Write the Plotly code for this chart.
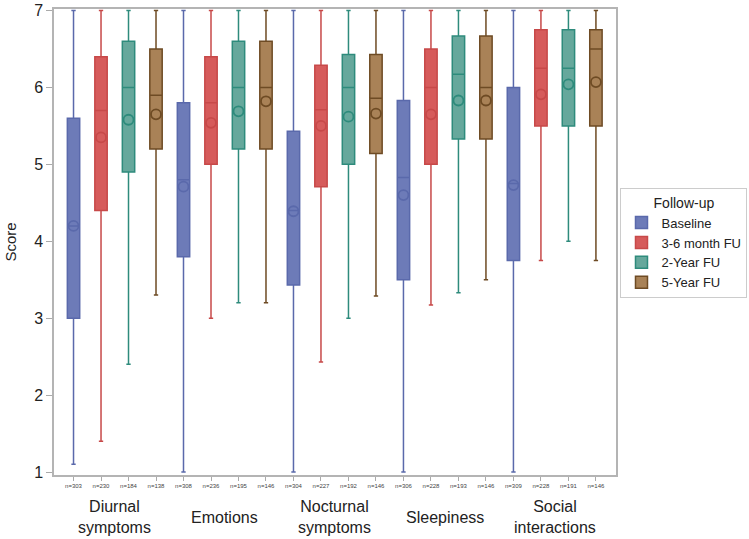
import plotly.graph_objects as go

# domains shown on the x axis
domains = ["Diurnal<br>symptoms", "Emotions", "Nocturnal<br>symptoms", "Sleepiness", "Social<br>interactions"]
followups = ["Baseline", "3-6 month FU", "2-Year FU", "5-Year FU"]

# sample sizes, one list per follow-up (order = domains)
n_baseline = [303, 308, 304, 306, 309]
n_3_6m = [230, 236, 227, 228, 228]
n_2y = [184, 195, 192, 193, 191]
n_5y = [138, 146, 146, 146, 146]

# box statistics
min_baseline = [1.1, 1.0, 1.0, 1.0, 1.0]
q1_baseline = [3.0, 3.8, 3.43, 3.5, 3.75]
med_baseline = [4.2, 4.8, 4.4, 4.83, 4.75]
q3_baseline = [5.6, 5.8, 5.43, 5.83, 6.0]
max_baseline = [7, 7, 7, 7, 7]
mean_baseline = [4.2, 4.71, 4.39, 4.6, 4.73]

min_3_6m = [1.4, 3.0, 2.43, 3.17, 3.75]
q1_3_6m = [4.4, 5.0, 4.71, 5.0, 5.5]
med_3_6m = [5.7, 5.8, 5.71, 6.0, 6.25]
q3_3_6m = [6.4, 6.4, 6.29, 6.5, 6.75]
max_3_6m = [7, 7, 7, 7, 7]
mean_3_6m = [5.35, 5.54, 5.5, 5.65, 5.91]

min_2y = [2.4, 3.2, 3.0, 3.33, 4.0]
q1_2y = [4.9, 5.2, 5.0, 5.33, 5.5]
med_2y = [6.0, 6.0, 6.0, 6.17, 6.25]
q3_2y = [6.6, 6.6, 6.43, 6.67, 6.75]
max_2y = [7, 7, 7, 7, 7]
mean_2y = [5.58, 5.69, 5.62, 5.83, 6.04]

min_5y = [3.3, 3.2, 3.29, 3.5, 3.75]
q1_5y = [5.2, 5.2, 5.14, 5.33, 5.5]
med_5y = [5.9, 6.0, 5.86, 6.0, 6.5]
q3_5y = [6.5, 6.6, 6.43, 6.67, 6.75]
max_5y = [7, 7, 7, 7, 7]
mean_5y = [5.65, 5.82, 5.66, 5.83, 6.07]

series = [
    (followups[0], n_baseline, min_baseline, q1_baseline, med_baseline, q3_baseline, max_baseline, mean_baseline),
    (followups[1], n_3_6m, min_3_6m, q1_3_6m, med_3_6m, q3_3_6m, max_3_6m, mean_3_6m),
    (followups[2], n_2y, min_2y, q1_2y, med_2y, q3_2y, max_2y, mean_2y),
    (followups[3], n_5y, min_5y, q1_5y, med_5y, q3_5y, max_5y, mean_5y),
]

fills = ["#6d7bb8", "#d65b5b", "#66a89c", "#a98257"]
edges = ["#5a69ab", "#c74949", "#2e8b7c", "#6e4b24"]

FONT = "Liberation Sans, Arial, sans-serif"
n_groups = len(followups)

fig = go.Figure()
tickvals, ticktext = [], []
for k, (name, ns, lo, q1, med, q3, hi, mean) in enumerate(series):
    xs = [d * n_groups + k for d in range(len(domains))]
    tickvals += xs
    ticktext += [f"n={n}" for n in ns]
    fig.add_trace(
        go.Box(
            name=name,
            x=xs,
            lowerfence=lo,
            q1=q1,
            median=med,
            q3=q3,
            upperfence=hi,
            width=0.45,
            whiskerwidth=0.35,
            fillcolor=fills[k],
            line=dict(color=edges[k], width=1.5),
            boxpoints=False,
        )
    )
    fig.add_trace(
        go.Scatter(
            x=xs,
            y=mean,
            mode="markers",
            marker=dict(symbol="circle-open", size=10, color=edges[k], line=dict(width=1.8)),
            showlegend=False,
            hoverinfo="y",
        )
    )

fig.update_xaxes(
    range=[-0.71, 19.73],
    tickvals=tickvals,
    ticktext=ticktext,
    tickfont=dict(size=6, color="#444444"),
    ticks="outside",
    ticklen=4,
    tickcolor="#aaaaaa",
    showline=True,
    mirror=True,
    linecolor="#b4b4b4",
    linewidth=1.5,
    showgrid=False,
    zeroline=False,
    automargin=False,
)
fig.update_yaxes(
    range=[0.961, 7.02],
    tickvals=[1, 2, 3, 4, 5, 6, 7],
    tickfont=dict(size=16, color="#222222"),
    ticks="outside",
    ticklen=6,
    tickcolor="#aaaaaa",
    showline=True,
    mirror=True,
    linecolor="#b4b4b4",
    linewidth=1.5,
    showgrid=False,
    zeroline=False,
    automargin=False,
    title=dict(text="Score", font=dict(size=15, color="#222222"), standoff=14),
)

for d, label in enumerate(domains):
    fig.add_annotation(
        x=d * n_groups + (n_groups - 1) / 2,
        y=-0.091,
        xref="x",
        yref="paper",
        text=label,
        showarrow=False,
        font=dict(size=16, color="#222222", family=FONT),
        yanchor="middle",
    )

fig.update_layout(
    width=749,
    height=539,
    margin=dict(l=54, r=133, t=9, b=64, autoexpand=False),
    plot_bgcolor="white",
    paper_bgcolor="white",
    font=dict(family=FONT, color="#222222"),
    boxmode="overlay",
    legend=dict(
        title=dict(text="Follow-up", side="top center", font=dict(size=14)),
        font=dict(size=13),
        x=1.008,
        y=0.615,
        xanchor="left",
        yanchor="top",
        bordercolor="#cccccc",
        borderwidth=1,
        itemwidth=30,
        tracegroupgap=0,
    ),
    showlegend=True,
)

fig.write_html(
    "out.html",
    config={"displayModeBar": False},
    post_script="document.body.style.margin='0';document.body.style.overflow='hidden';",
)
